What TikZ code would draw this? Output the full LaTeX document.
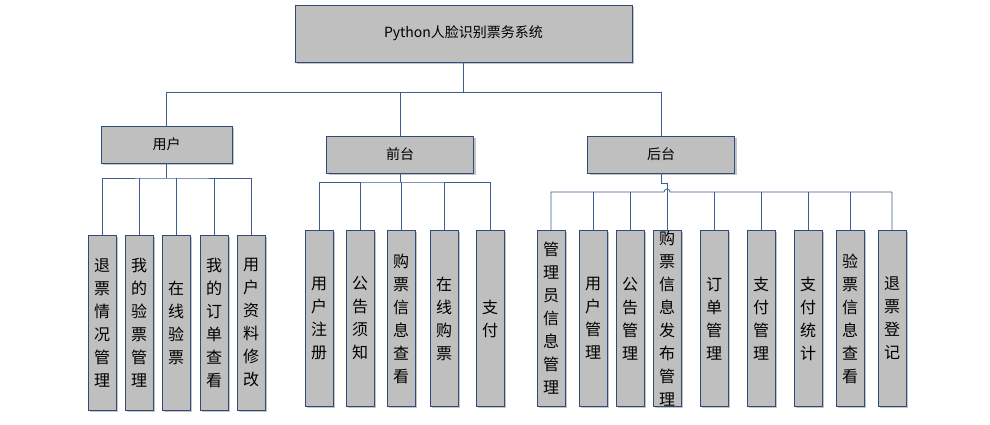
\documentclass[tikz,border=0pt]{standalone}
\usepackage{fontspec}
\setmainfont{Noto Sans CJK SC}
\usetikzlibrary{shadows}
\definecolor{bx}{HTML}{BFBFBF}
\definecolor{bd}{HTML}{2F4B7C}
\definecolor{ln}{HTML}{3E5C94}
\begin{document}
\begin{tikzpicture}[x=1pt,y=-1pt,
  box/.style={draw=bd,line width=0.9pt,fill=bx,inner sep=0pt,drop shadow={shadow xshift=2pt,shadow yshift=-2pt,fill=black!45,opacity=0.5}},
  top/.style={box,font=\fontsize{14}{16}\selectfont},
  leaf/.style={box,minimum width=28pt,anchor=north,align=center,font=\fontsize{16}{23}\selectfont},
  con/.style={draw=ln,line width=0.8pt}]
\useasboundingbox (0,0) rectangle (990,424);
\node[top,minimum width=337pt,minimum height=57pt] (root) at (463.5,33.5) {Python人脸识别票务系统};
\node[top,minimum width=131pt,minimum height=37pt] (u) at (166.5,144.5) {用户};
\node[top,minimum width=147pt,minimum height=37pt] (f) at (400,154.5) {前台};
\node[top,minimum width=147pt,minimum height=37pt] (b) at (661,154.5) {后台};
% user leaves
\foreach \n/\x/\t in {u1/102/退\\票\\情\\况\\管\\理, u2/139/我\\的\\验\\票\\管\\理, u3/176/在\\线\\验\\票, u4/214/我\\的\\订\\单\\查\\看, u5/251/用\\户\\资\\料\\修\\改}
  \node[leaf,minimum height=175pt] (\n) at (\x,235) {\t};
\foreach \n/\x/\t in {f1/319/用\\户\\注\\册, f2/360/公\\告\\须\\知, f3/401/购\\票\\信\\息\\查\\看, f4/444/在\\线\\购\\票, f5/490/支\\付}
  \node[leaf,minimum height=176pt] (\n) at (\x,230) {\t};
\foreach \n/\x/\t in {b1/551/管\\理\\员\\信\\息\\管\\理, b2/593/用\\户\\管\\理, b3/630/公\\告\\管\\理, b4/667/购\\票\\信\\息\\发\\布\\管\\理, b5/714/订\\单\\管\\理, b6/761/支\\付\\管\\理, b7/808/支\\付\\统\\计, b8/850/验\\票\\信\\息\\查\\看, b9/892/退\\票\\登\\记}
  \node[leaf,minimum height=176pt] (\n) at (\x,230) {\t};
% level 1
\draw[con] (root.south) -- (463.5,92.5) coordinate (r1);
\draw[con] (u.north) |- (r1) -| (b.north);
\draw[con] (f.north) -- (400,92.5);
% user
\draw[con] (u.south) -- (166.5,178) coordinate (uj);
\draw[con] (u1.north) |- (uj) -| (u5.north);
\foreach \n in {u2,u3,u4} \draw[con] (\n.north) -- (\n.north |- uj);
% front
\draw[con] (f.south) -- (400,182) coordinate (fj);
\draw[con] (f1.north) |- (fj) -| (f5.north);
\foreach \n in {f2,f3,f4} \draw[con] (\n.north) -- (\n.north |- fj);
% back
\coordinate (bj) at (662,192);
\draw[con] (b1.north) |- (664,192) arc[start angle=180,end angle=0,radius=3pt] -- (892,192) -- (b9.north);
\foreach \n in {b2,b3,b5,b6,b7,b8} \draw[con] (\n.north) -- (\n.north |- bj);
\draw[con] (b.south) -- (661,183) -| (b4.north);
\end{tikzpicture}
\end{document}
